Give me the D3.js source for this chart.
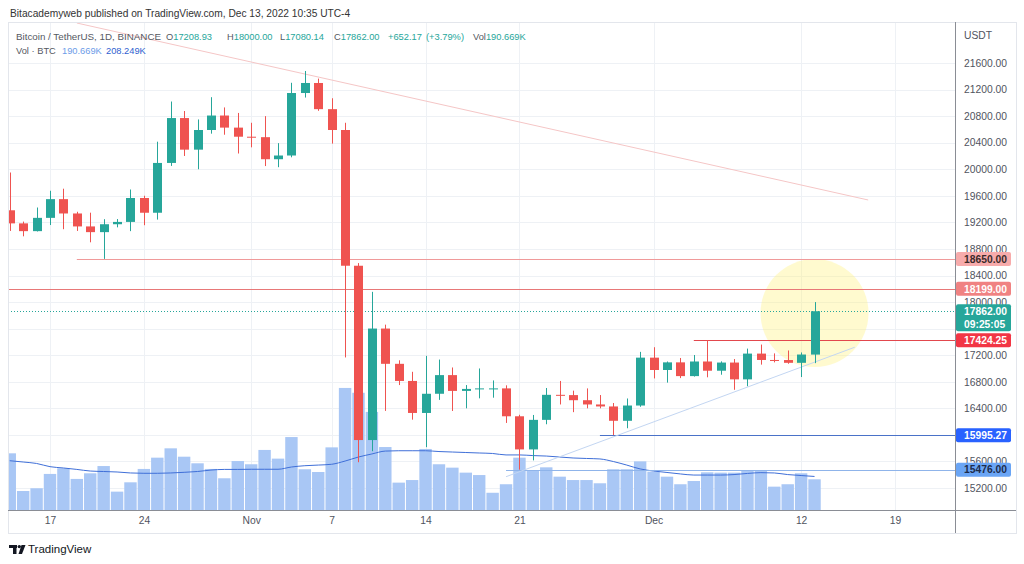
<!DOCTYPE html>
<html>
<head>
<meta charset="utf-8">
<script src="https://cdn.jsdelivr.net/npm/d3@7"></script>
<style>
  body { margin: 0; background: #fff; }
  svg { display: block; font-family: "Liberation Sans", Arial, sans-serif; }
</style>
</head>
<body>
<svg id="chart" width="1024" height="564"></svg>
<script>
// ---------------- DATA ----------------
const startDate = "2022-10-14";
const endDate = "2022-12-13";
const openPrices = [
  19382, 19185, 19068, 19268, 19550, 19334, 19139, 19053, 19172, 19207,
  19567, 19345, 20095, 20771, 20295, 20591, 20809, 20627, 20490, 20483,
  20151, 20207, 21148, 21299, 20905, 20591, 18547, 15922, 17601, 17070,
  16812, 16330, 16619, 16900, 16662, 16692, 16700, 16700, 16280, 15781,
  16226, 16603, 16599, 16522, 16458, 16428, 16212, 16442, 17163, 16977,
  17092, 16885, 17105, 16966, 17089, 16836, 17224, 17128, 17127, 17085,
  17208.93
];
const highPrices = [
  19951, 19212, 19424, 19676, 19707, 19360, 19346, 19248, 19250, 19695,
  19601, 20415, 21020, 20877, 20750, 21085, 20931, 20848, 20700, 20800,
  20393, 21302, 21480, 21365, 21069, 20700, 18587, 18154, 17660, 17123,
  16950, 17190, 17134, 17015, 16750, 17000, 16820, 16746, 16303, 16300,
  16706, 16812, 16666, 16700, 16600, 16480, 16548, 17250, 17320, 17105,
  17158, 17203, 17424.25, 17107, 17142, 17299, 17360, 17227, 17271, 17241,
  18000
];
const lowPrices = [
  19071, 18990, 19063, 19160, 19097, 19071, 18900, 18650, 19125, 19068,
  19157, 19242, 20050, 20200, 20000, 20536, 20520, 20237, 20330, 20048,
  20031, 20180, 21080, 20880, 20386, 17166, 15588, 15754, 16361, 16750,
  16229, 15815, 16527, 16360, 16400, 16550, 16560, 16180, 15476, 15616,
  16160, 16458, 16342, 16400, 16400, 15995.27, 16100, 16423, 16850, 16787,
  16855, 16878, 16867, 16906, 16679, 16733, 17058, 17092, 17071, 16871,
  17080.14
];
const closePrices = [
  19185, 19068, 19268, 19550, 19334, 19139, 19053, 19172, 19207, 19567,
  19345, 20095, 20771, 20295, 20591, 20809, 20627, 20490, 20483, 20151,
  20207, 21148, 21299, 20905, 20591, 18547, 15922, 17601, 17070, 16812,
  16330, 16619, 16900, 16662, 16692, 16700, 16700, 16280, 15781, 16226,
  16603, 16599, 16522, 16458, 16428, 16212, 16442, 17163, 16977, 17092,
  16885, 17105, 16966, 17089, 16836, 17224, 17128, 17127, 17085, 17209.83,
  17862
];
// volume in thousands of BTC
const volumes = [
  352, 118, 135, 224, 259, 193, 228, 273, 114, 172,
  255, 325, 383, 331, 290, 255, 197, 304, 284, 373,
  319, 453, 253, 236, 389, 758, 728, 609, 391, 170,
  186, 379, 284, 263, 232, 217, 107, 160, 325, 244,
  265, 207, 186, 186, 166, 253, 253, 302, 238, 207,
  160, 180, 234, 232, 232, 242, 242, 145, 160, 228,
  190.669
];
const volumeMA = [
  306, 298, 289, 269, 261, 252, 242, 239, 236, 230,
  228, 228, 230, 234, 239, 248, 252, 252, 253, 253,
  253, 267, 275, 279, 284, 304, 329, 348, 366, 368,
  368, 368, 363, 360, 357, 354, 351, 342, 342, 338,
  335, 329, 323, 320, 317, 301, 279, 255, 242, 233,
  224, 217, 217, 217, 220, 227, 232, 230, 220, 214,
  208.249
];
const priceTicks = [15200, 15600, 16000, 16400, 16800, 17200, 17600, 18000, 18400, 18800, 19200, 19600, 20000, 20400, 20800, 21200, 21600];
const timeTickDates = ["2022-10-17", "2022-10-24", "2022-11-01", "2022-11-07", "2022-11-14", "2022-11-21", "2022-12-01", "2022-12-12", "2022-12-19"];
const timeTickLabels = ["17", "24", "Nov", "7", "14", "21", "Dec", "12", "19"];
const levelPrices = [18650, 18199, 17424.25, 15995.27, 15476];
const levelStarts = ["2022-10-19", "2022-10-01", "2022-12-04", "2022-11-27", "2022-11-20"];
const trendDownDates = ["2022-10-19", "2022-12-17"];
const trendDownPrices = [22202, 19537];
const trendUpDates = ["2022-11-20", "2022-12-16"];
const trendUpPrices = [15370, 17320];
const highlightDate = "2022-12-13";
const highlightPrice = 17835;
const lastPrice = 17862;
const countdown = "09:25:05";

// ---------------- SETUP ----------------
const svg = d3.select("#chart");
const P = { left: 8, right: 955, top: 22, bottom: 510, frameRight: 1016, frameBottom: 533 };
const parse = d3.utcParse("%Y-%m-%d");
const dates = d3.utcDay.range(parse(startDate), d3.utcDay.offset(parse(endDate), 1));
const data = dates.map((d, i) => ({ date: d, o: openPrices[i], h: highPrices[i], l: lowPrices[i], c: closePrices[i], v: volumes[i], ma: volumeMA[i] }));

const x = d3.scaleUtc().domain([parse("2022-10-17"), parse("2022-12-19")]).range([50, 895]);
const y = d3.scaleLinear().domain([15200, 21600]).range([488, 63]);
const yVol = d3.scaleLinear().domain([0, 800]).range([510, 510 - 800 / 6.21]);
const dayW = x(parse("2022-10-18")) - x(parse("2022-10-17"));

const UP = "#26a69a", DOWN = "#ef5350";
const FONT = "'Liberation Sans', Arial, sans-serif";

svg.append("rect").attr("width", 1024).attr("height", 564).attr("fill", "#fff");

svg.append("defs").append("clipPath").attr("id", "plotClip")
  .append("rect").attr("x", P.left).attr("y", P.top).attr("width", P.right - P.left).attr("height", P.bottom - P.top);

// grid
const grid = svg.append("g").attr("stroke", "#eef1f5").attr("stroke-width", 1);
grid.selectAll("line.h").data(priceTicks).join("line").attr("class", "h")
  .attr("x1", P.left).attr("x2", P.right)
  .attr("y1", d => Math.round(y(d)) + 0.5).attr("y2", d => Math.round(y(d)) + 0.5);
grid.selectAll("line.v").data(timeTickDates).join("line").attr("class", "v")
  .attr("y1", P.top).attr("y2", P.bottom)
  .attr("x1", d => Math.round(x(parse(d))) + 0.5).attr("x2", d => Math.round(x(parse(d))) + 0.5);

const plot = svg.append("g").attr("clip-path", "url(#plotClip)");

// highlight circle
plot.append("circle")
  .attr("cx", x(parse(highlightDate))).attr("cy", y(highlightPrice)).attr("r", 54)
  .attr("fill", "#fff176").attr("opacity", 0.35);

// volume
plot.append("g").selectAll("rect").data(data).join("rect")
  .attr("x", d => x(d.date) - dayW / 2 + 0.5)
  .attr("width", dayW - 1)
  .attr("y", d => yVol(d.v))
  .attr("height", d => yVol(0) - yVol(d.v))
  .attr("fill", "#a9c7f5");

plot.append("path").datum(data)
  .attr("fill", "none").attr("stroke", "#3f6fd8").attr("stroke-width", 1)
  .attr("d", d3.line().x(d => x(d.date)).y(d => yVol(d.ma)).curve(d3.curveMonotoneX));

// level lines
const levelColors = ["#f09a9a", "#e87878", "#e2474d", "#4a72c8", "#8fb4ea"];
plot.append("g").selectAll("line").data(levelPrices).join("line")
  .attr("x1", (d, i) => x(parse(levelStarts[i])))
  .attr("x2", P.right)
  .attr("y1", d => Math.round(y(d)) + 0.5).attr("y2", d => Math.round(y(d)) + 0.5)
  .style("stroke", (d, i) => levelColors[i]).attr("stroke-width", 1);

// last price dotted line
plot.append("line")
  .attr("x1", P.left).attr("x2", P.right)
  .attr("y1", Math.round(y(lastPrice)) + 0.5).attr("y2", Math.round(y(lastPrice)) + 0.5)
  .attr("stroke", UP).attr("stroke-width", 1).attr("stroke-dasharray", "1,2");

// trendlines
plot.append("line")
  .attr("x1", x(parse(trendDownDates[0]))).attr("y1", y(trendDownPrices[0]))
  .attr("x2", x(parse(trendDownDates[1]))).attr("y2", y(trendDownPrices[1]))
  .attr("stroke", "#f5c6c6").attr("stroke-width", 1);
plot.append("line")
  .attr("x1", x(parse(trendUpDates[0]))).attr("y1", y(trendUpPrices[0]))
  .attr("x2", x(parse(trendUpDates[1]))).attr("y2", y(trendUpPrices[1]))
  .attr("stroke", "#c3d6f2").attr("stroke-width", 1);

// candles
const candles = plot.append("g").selectAll("g").data(data).join("g");
candles.append("line")
  .attr("x1", d => Math.round(x(d.date)) + 0.5).attr("x2", d => Math.round(x(d.date)) + 0.5)
  .attr("y1", d => y(d.h)).attr("y2", d => y(d.l))
  .attr("stroke", d => d.c >= d.o ? UP : DOWN).attr("stroke-width", 1);
candles.append("rect")
  .attr("x", d => Math.round(x(d.date)) - 4)
  .attr("width", 9)
  .attr("y", d => y(Math.max(d.o, d.c)))
  .attr("height", d => Math.max(1, Math.abs(y(d.o) - y(d.c))))
  .attr("fill", d => d.c >= d.o ? UP : DOWN);

// frame and axis lines
svg.append("rect").attr("x", P.left + 0.5).attr("y", P.top + 0.5)
  .attr("width", P.frameRight - P.left).attr("height", P.frameBottom - P.top)
  .attr("fill", "none").attr("stroke", "#e3e6ec");
svg.append("line").attr("x1", P.right + 0.5).attr("x2", P.right + 0.5).attr("y1", P.top).attr("y2", P.frameBottom)
  .attr("stroke", "#8a8d95");
svg.append("line").attr("x1", P.left).attr("x2", P.frameRight).attr("y1", P.bottom + 0.5).attr("y2", P.bottom + 0.5)
  .attr("stroke", "#8a8d95");

// price axis (labels fully covered by the last-price box are not drawn)
const lastBoxTop = y(lastPrice) - 7, lastBoxBottom = y(lastPrice) + 20;
const visibleTicks = priceTicks.filter(t => !(y(t) - 4 > lastBoxTop && y(t) + 4 < lastBoxBottom + 8));
const yAxis = svg.append("g").attr("transform", `translate(${P.right},0)`)
  .call(d3.axisRight(y).tickValues(visibleTicks).tickFormat(d3.format(".2f")).tickSize(0).tickPadding(9));
yAxis.select(".domain").remove();
yAxis.selectAll("text").attr("font-size", 10.3).attr("fill", "#50535e").attr("font-family", FONT);
svg.append("text").attr("x", 964).attr("y", 39).attr("font-size", 10.3).attr("fill", "#50535e").text("USDT");

// time axis
const xAxis = svg.append("g").attr("transform", `translate(0,${P.bottom})`)
  .call(d3.axisBottom(x).tickValues(timeTickDates.map(parse)).tickFormat((d, i) => timeTickLabels[i]).tickSize(0).tickPadding(7));
xAxis.select(".domain").remove();
xAxis.selectAll("text").attr("font-size", 10.3).attr("fill", "#50535e").attr("font-family", FONT);

// price label boxes
const boxSpecs = [
  { price: levelPrices[0], bg: "#f7abab", fg: "#3a2a2a" },
  { price: levelPrices[1], bg: "#f08282", fg: "#ffffff" },
  { price: levelPrices[2], bg: "#f23645", fg: "#ffffff" },
  { price: levelPrices[3], bg: "#2962ff", fg: "#ffffff" },
  { price: levelPrices[4], bg: "#6aa5f5", fg: "#1d2b4a" }
];
const boxes = svg.append("g");
boxSpecs.forEach(b => {
  const cy = y(b.price);
  boxes.append("rect").attr("x", 956).attr("y", cy - 7).attr("width", 55).attr("height", 14).attr("rx", 2)
    .attr("fill", b.bg);
  boxes.append("text").attr("x", 964).attr("y", cy + 3.7).attr("font-size", 10.3).attr("font-weight", "bold")
    .attr("fill", b.fg).text(d3.format(".2f")(b.price));
});
{
  const cy = y(lastPrice);
  boxes.append("rect").attr("x", 956).attr("y", cy - 7).attr("width", 55).attr("height", 27).attr("rx", 2).attr("fill", UP);
  boxes.append("text").attr("x", 964).attr("y", cy + 3.7).attr("font-size", 10.3).attr("font-weight", "bold")
    .attr("fill", "#fff").text(d3.format(".2f")(lastPrice));
  boxes.append("text").attr("x", 964).attr("y", cy + 16.5).attr("font-size", 10.3).attr("font-weight", "bold")
    .attr("fill", "#fff").text(countdown);
}

// header texts
svg.append("text").attr("x", 10).attr("y", 17).attr("font-size", 10.2).attr("fill", "#333")
  .text("Bitacademyweb published on TradingView.com, Dec 13, 2022 10:35 UTC-4");

const last = data[data.length - 1];
const prev = data[data.length - 2];
const chg = last.c - prev.c;
const legend = svg.append("g").attr("font-size", 9.3);
const GRAY = "#55585f";
const l1Parts = [
  { x: 16, w: 145, parts: [["Bitcoin / TetherUS, 1D, BINANCE", GRAY]] },
  { x: 166, parts: [["O", GRAY], [d3.format(".2f")(last.o), UP]] },
  { x: 227, parts: [["H", GRAY], [d3.format(".2f")(last.h), UP]] },
  { x: 280, parts: [["L", GRAY], [d3.format(".2f")(last.l), UP]] },
  { x: 334, parts: [["C", GRAY], [d3.format(".2f")(last.c), UP]] },
  { x: 388, parts: [["+" + d3.format(".2f")(chg), UP]] },
  { x: 426, parts: [["(+" + d3.format(".2f")(chg / prev.c * 100) + "%)", UP]] },
  { x: 473, parts: [["Vol", GRAY], [d3.format(".3f")(last.v) + "K", UP]] }
];
l1Parts.forEach(seg => {
  const t = legend.append("text").attr("x", seg.x).attr("y", 40);
  if (seg.w) t.attr("textLength", seg.w).attr("lengthAdjust", "spacingAndGlyphs");
  seg.parts.forEach(([s, c]) => t.append("tspan").attr("fill", c).text(s));
});
const l2Parts = [
  { x: 16, s: "Vol · BTC", c: GRAY },
  { x: 62, s: d3.format(".3f")(last.v) + "K", c: "#6c9ce8" },
  { x: 106, s: d3.format(".3f")(last.ma) + "K", c: "#2f5fd0" }
];
l2Parts.forEach(p => legend.append("text").attr("x", p.x).attr("y", 54).attr("fill", p.c).text(p.s));

// footer logo
const logo = svg.append("g").attr("fill", "#131722");
logo.append("rect").attr("x", 9).attr("y", 545).attr("width", 8).attr("height", 3);
logo.append("rect").attr("x", 13).attr("y", 545).attr("width", 3.5).attr("height", 9);
logo.append("circle").attr("cx", 19.3).attr("cy", 546.6).attr("r", 1.7);
logo.append("path").attr("d", "M21.5,545 L25.5,545 L22,554 L18.5,554 Z");
svg.append("text").attr("x", 28).attr("y", 553).attr("font-size", 11.5).attr("fill", "#131722").text("TradingView");
</script>
</body>
</html>
